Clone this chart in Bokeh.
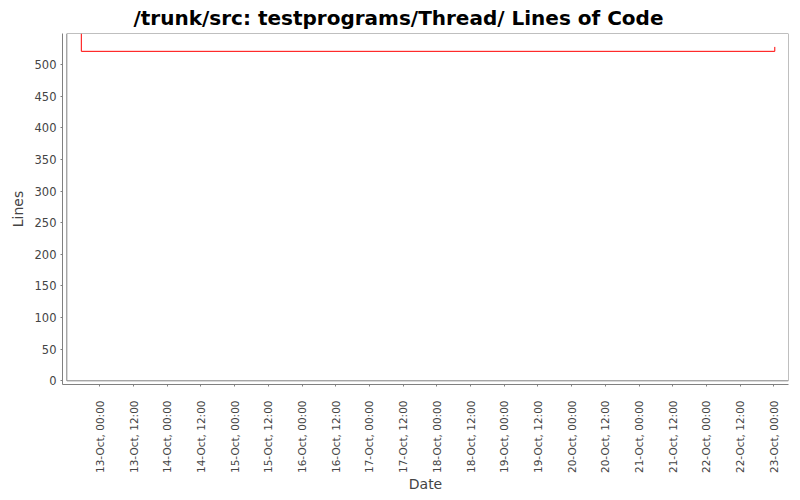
import math
import pandas as pd
from bokeh.plotting import figure
from bokeh.models import Range1d, FixedTicker, DatetimeTickFormatter, BoxAnnotation
from bokeh.embed import file_html
from bokeh.resources import INLINE

# data
dates = pd.to_datetime(["2008-10-12 17:20", "2008-10-12 17:25", "2008-10-23 00:20"])
lines = [549, 521, 528]

# axis ticks every 12 hours
tick_dates = pd.date_range("2008-10-13 00:00", "2008-10-23 00:00", freq="12h")

x_start = pd.Timestamp("2008-10-12 10:43")
x_end = pd.Timestamp("2008-10-23 05:13")
inner_left = pd.Timestamp("2008-10-12 12:15")


def ms(t):
    return t.value / 1e6


p = figure(width=792, height=496, output_backend="svg", toolbar_location=None,
           x_axis_type="datetime", title="/trunk/src: testprograms/Thread/ Lines of Code",
           x_axis_label="Date", y_axis_label="Lines",
           min_border_left=62, min_border_right=4, min_border_top=33, min_border_bottom=112)
p.x_range = Range1d(ms(x_start), ms(x_end))
p.y_range = Range1d(-5.85, 549.2)

p.step(dates, lines, mode="after", line_color="red", line_width=1)

# inner plot box (axes sit a few pixels away from it)
p.add_layout(BoxAnnotation(left=ms(inner_left), bottom=0, fill_color=None,
                           line_color="#808080", line_alpha=1, line_width=1))

p.outline_line_color = None
p.grid.visible = False

p.title.text_font = "DejaVu Sans"
p.title.text_font_style = "bold"
p.title.text_font_size = "20px"
p.title.align = "left"
p.title.offset = 71
p.title.standoff = 7
p.title.text_color = "black"

for ax in [p.xaxis[0], p.yaxis[0]]:
    ax.axis_line_color = "#808080"
    ax.major_tick_line_color = "#808080"
    ax.minor_tick_line_color = None
    ax.major_tick_in = 0
    ax.major_tick_out = 2
    ax.major_label_text_font = "DejaVu Sans"
    ax.major_label_text_color = "#444444"
    ax.axis_label_text_font = "DejaVu Sans"
    ax.axis_label_text_font_size = "14px"
    ax.axis_label_text_font_style = "normal"
    ax.axis_label_text_color = "#444444"

p.yaxis.ticker = FixedTicker(ticks=list(range(0, 550, 50)))
p.yaxis.major_label_text_font_size = "11.5px"
p.yaxis.major_label_standoff = 4
p.yaxis.axis_label_standoff = 6

p.xaxis.ticker = FixedTicker(ticks=[ms(t) for t in tick_dates])
fmt = "%d-%b, %H:%M"
p.xaxis.formatter = DatetimeTickFormatter(hours=fmt, days=fmt, months=fmt, years=fmt,
                                          minutes=fmt, hourmin=fmt)
p.xaxis.major_label_orientation = math.pi / 2
p.xaxis.major_label_text_font_size = "10.5px"
p.xaxis.major_label_standoff = 14
p.xaxis.axis_label_standoff = 0

open("out.html", "w").write(file_html(p, INLINE))
